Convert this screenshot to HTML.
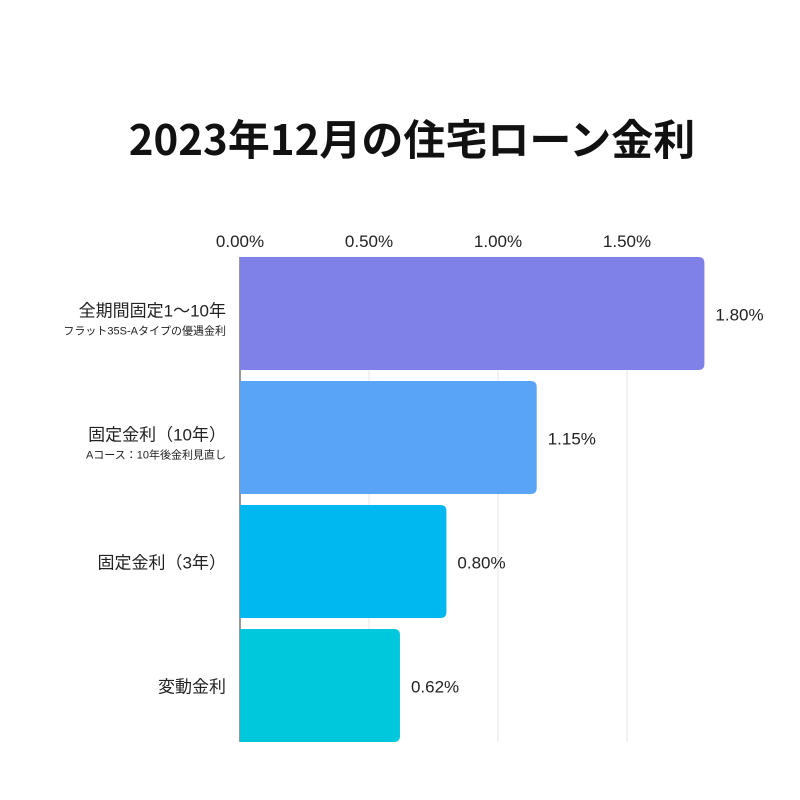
<!DOCTYPE html>
<html><head><meta charset="utf-8"><style>
body{margin:0;background:#fff;font-family:"Liberation Sans","Noto Sans CJK JP",sans-serif;}
#wrap{position:relative;width:800px;height:800px;overflow:hidden;background:#fff}
</style></head><body>
<div id="wrap">
<svg id="svg" width="800" height="800">
<text x="412" y="155" text-anchor="middle" font-size="42" font-weight="bold" fill="#111" font-family="'Noto Sans CJK JP',sans-serif">2023年12月の住宅ローン金利</text>
</svg>
</div>
<script>
const categories=["全期間固定1〜10年","固定金利（10年）","固定金利（3年）","変動金利"];
const subtitles=["フラット35S-Aタイプの優遇金利","Aコース：10年後金利見直し","",""];
const values=[1.80,1.15,0.80,0.62];
const valueLabels=["1.80%","1.15%","0.80%","0.62%"];
const ticks=[0,0.5,1.0,1.5];
const tickLabels=["0.00%","0.50%","1.00%","1.50%"];
const colors=["#7f80e8","#5aa4f8","#00b8f0","#00c8dc"];
const NS="http://www.w3.org/2000/svg";
const svg=document.getElementById('svg');
const x0=240,pxPer=258,top0=257,band=124,bh=113;
const xs=v=>x0+v*pxPer;
function mk(t,a){const e=document.createElementNS(NS,t);for(const k in a)e.setAttribute(k,a[k]);svg.appendChild(e);return e;}
ticks.forEach((t,i)=>{
 const g=mk('line',{x1:xs(t),x2:xs(t),y1:257,y2:742,stroke:i==0?'#333':'#e6e6e6','stroke-width':1});
 
 
 const tx=mk('text',{x:xs(t),y:247,'text-anchor':'middle','font-size':17,fill:'#222'});
 tx.textContent=tickLabels[i];
 
 
});
values.forEach((v,i)=>{
 const y=top0+i*band,w=xs(v)-x0,r=6;
 const p=mk('path',{d:`M${x0},${y}H${x0+w-r}Q${x0+w},${y} ${x0+w},${y+r}V${y+bh-r}Q${x0+w},${y+bh} ${x0+w-r},${y+bh}H${x0}Z`,fill:colors[i]});
 
 
 const vl=mk('text',{x:x0+w+11,y:y+bh/2+7,'font-size':17,fill:'#222'});
 vl.textContent=valueLabels[i];
 
 
 const cy=subtitles[i]?y+bh/2+3:y+bh/2+7;
 const cl=mk('text',{x:226,y:cy,'text-anchor':'end','font-size':17,fill:'#222'});
 cl.textContent=categories[i];
 
 
 if(subtitles[i]){
  const s=mk('text',{x:226,y:cy+18,'text-anchor':'end','font-size':11,fill:'#222'});
  s.textContent=subtitles[i];
  
  
 }
});
</script>
</body></html>
